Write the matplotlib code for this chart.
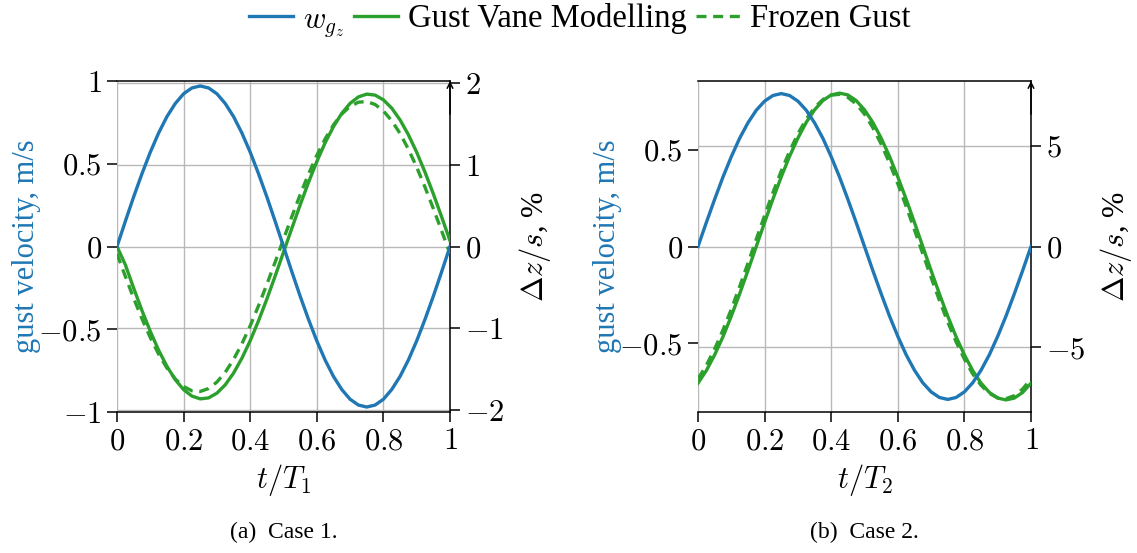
import numpy as np
import matplotlib
matplotlib.use('Agg')
import matplotlib.pyplot as plt
from matplotlib.lines import Line2D

plt.rcParams['font.family'] = ['Liberation Serif', 'DejaVu Serif']
plt.rcParams['mathtext.fontset'] = 'cm'

BLUE = '#1f77b4'
GREEN = '#2ca02c'
GRIDC = '#b8b8b8'

# normalised time, 41 samples over one period
t = np.linspace(0, 1, 41)

# case 1: gust velocity (m/s) and plunge response (% of span)
case1_gust = [0.000, 0.152, 0.300, 0.440, 0.570, 0.686, 0.785, 0.864, 0.923, 0.958, 0.970,
              0.958, 0.923, 0.864, 0.785, 0.686, 0.570, 0.440, 0.300, 0.152, 0.000,
              -0.152, -0.300, -0.440, -0.570, -0.686, -0.785, -0.864, -0.923, -0.958, -0.970,
              -0.958, -0.923, -0.864, -0.785, -0.686, -0.570, -0.440, -0.300, -0.152, 0.000]
case1_vane = [0.000, -0.223, -0.510, -0.786, -1.041, -1.272, -1.470, -1.633, -1.756, -1.835, -1.869,
              -1.857, -1.799, -1.697, -1.553, -1.371, -1.156, -0.911, -0.645, -0.362, -0.070,
              0.223, 0.510, 0.786, 1.041, 1.272, 1.470, 1.633, 1.756, 1.835, 1.869,
              1.857, 1.799, 1.697, 1.553, 1.371, 1.156, 0.911, 0.645, 0.362, 0.070]
case1_frozen = [-0.089, -0.366, -0.634, -0.887, -1.117, -1.320, -1.491, -1.625, -1.718, -1.770, -1.778,
                -1.742, -1.663, -1.543, -1.386, -1.194, -0.973, -0.727, -0.464, -0.190, 0.089,
                0.366, 0.634, 0.887, 1.117, 1.320, 1.491, 1.625, 1.718, 1.770, 1.778,
                1.742, 1.663, 1.543, 1.386, 1.194, 0.973, 0.727, 0.464, 0.190, -0.089]

# case 2
case2_gust = [0.000, 0.124, 0.244, 0.359, 0.464, 0.559, 0.639, 0.704, 0.751, 0.780, 0.790,
              0.780, 0.751, 0.704, 0.639, 0.559, 0.464, 0.359, 0.244, 0.124, 0.000,
              -0.124, -0.244, -0.359, -0.464, -0.559, -0.639, -0.704, -0.751, -0.780, -0.790,
              -0.780, -0.751, -0.704, -0.639, -0.559, -0.464, -0.359, -0.244, -0.124, 0.000]
case2_vane = [-6.77, -6.15, -5.37, -4.47, -3.45, -2.35, -1.19, 0.00, 1.19, 2.35, 3.45,
              4.47, 5.37, 6.15, 6.77, 7.23, 7.51, 7.60, 7.51, 7.23, 6.77,
              6.15, 5.37, 4.47, 3.45, 2.35, 1.19, 0.00, -1.19, -2.35, -3.45,
              -4.47, -5.37, -6.15, -6.77, -7.23, -7.51, -7.60, -7.51, -7.23, -6.77]
case2_frozen = [-6.56, -5.89, -5.08, -4.14, -3.11, -1.99, -0.83, 0.36, 1.53, 2.67, 3.74,
                4.72, 5.58, 6.31, 6.88, 7.28, 7.50, 7.54, 7.39, 7.06, 6.56,
                5.89, 5.08, 4.14, 3.11, 1.99, 0.83, -0.36, -1.53, -2.67, -3.74,
                -4.72, -5.58, -6.31, -6.88, -7.28, -7.50, -7.54, -7.39, -7.06, -6.56]

x_ticks = [0, 0.2, 0.4, 0.6, 0.8, 1]
x_ticklabels = ['$0$', '$0.2$', '$0.4$', '$0.6$', '$0.8$', '$1$']

panels = [
    dict(pos=[117/1137, 1-412/553, 333/1137, 331/553], gust=case1_gust, vane=case1_vane,
         frozen=case1_frozen, ylim=(-1, 1), ylim2=(-2.03, 2.03),
         yticks=[-1, -0.5, 0, 0.5, 1], ylabels=['$-1$', '$-0.5$', '$0$', '$0.5$', '$1$'],
         yticks2=[-2, -1, 0, 1, 2], ylabels2=['$-2$', '$-1$', '$0$', '$1$', '$2$'],
         xlabel='$t/T_1$', caption='(a)  Case 1.'),
    dict(pos=[698/1137, 1-412/553, 333/1137, 331/553], gust=case2_gust, vane=case2_vane,
         frozen=case2_frozen, ylim=(-0.855, 0.855), ylim2=(-8.2, 8.2),
         yticks=[-0.5, 0, 0.5], ylabels=['$-0.5$', '$0$', '$0.5$'],
         yticks2=[-5, 0, 5], ylabels2=['$-5$', '$0$', '$5$'],
         xlabel='$t/T_2$', caption='(b)  Case 2.'),
]

fig = plt.figure(figsize=(11.37, 5.53), dpi=100)

LW = 2.4
DASH = (3, 2)
FS = 22

for p in panels:
    ax2 = fig.add_axes(p['pos'])
    ax = ax2.twinx()
    # ax (gust, left scale) sits on top of ax2 (response, right scale)
    ax.yaxis.tick_left()
    ax.yaxis.set_label_position('left')
    ax2.yaxis.tick_right()
    ax2.yaxis.set_label_position('right')
    ax.set_zorder(ax2.get_zorder() + 1)
    ax.patch.set_visible(False)

    ax2.plot(t, p['vane'], color=GREEN, lw=LW, zorder=3, solid_joinstyle='round')
    ax2.plot(t, p['frozen'], color=GREEN, lw=LW, dashes=DASH, zorder=3)
    ax.plot(t, p['gust'], color=BLUE, lw=LW, solid_joinstyle='round')

    ax2.set_xlim(0, 1)
    ax2.set_ylim(*p['ylim2'])
    ax.set_ylim(*p['ylim'])

    ax2.set_axisbelow(True)
    ax2.grid(True, color=GRIDC, lw=1.0)

    ax2.set_xticks(x_ticks)
    ax2.set_xticklabels(x_ticklabels, fontsize=FS)
    ax2.set_yticks(p['yticks2'])
    ax2.set_yticklabels(p['ylabels2'], fontsize=FS)
    ax.set_yticks(p['yticks'])
    ax.set_yticklabels(p['ylabels'], fontsize=FS)

    for a in (ax, ax2):
        a.tick_params(direction='out', length=7, width=1.1, color='black', pad=4)
        for s in a.spines.values():
            s.set_linewidth(1.1)
    ax.spines['left'].set_visible(False)
    ax.spines['right'].set_visible(False)
    ax2.spines['left'].set_visible(False)
    ax2.spines['top'].set_visible(False)
    ax2.spines['bottom'].set_visible(False)

    # arrow tip on the right-hand axis
    ax2.annotate('', xy=(1, 1.0), xytext=(1, 0.9), xycoords='axes fraction',
                 arrowprops=dict(arrowstyle='->', lw=1.1, color='black',
                                 shrinkA=0, shrinkB=0, mutation_scale=10),
                 annotation_clip=False)

    ax.text(-0.273, 0.5, 'gust velocity, m/s', transform=ax.transAxes, rotation=90,
            ha='center', va='center', color=BLUE, fontsize=FS)
    ax.text(1.255, 0.5, r'$\Delta z/s$, %', transform=ax.transAxes, rotation=90,
            ha='center', va='center', fontsize=FS)
    ax.text(0.5, -0.205, p['xlabel'], transform=ax.transAxes,
            ha='center', va='center', fontsize=FS)

    fig.text(p['pos'][0] + p['pos'][2] / 2, 0.038, p['caption'],
             ha='center', va='center', fontsize=17)

handles = [Line2D([], [], color=BLUE, lw=LW),
           Line2D([], [], color=GREEN, lw=LW),
           Line2D([], [], color=GREEN, lw=LW, dashes=DASH)]
labels = ['$w_{g_z}$', 'Gust Vane Modelling', 'Frozen Gust']
leg = fig.legend(handles, labels, loc='center', bbox_to_anchor=(0.51, 0.962), ncol=3,
                 frameon=False, fontsize=23.5, handlelength=1.35, handletextpad=0.3,
                 columnspacing=0.3, borderpad=0)
leg.get_texts()[0].set_fontsize(FS)

fig.savefig('out.png', dpi=100)
